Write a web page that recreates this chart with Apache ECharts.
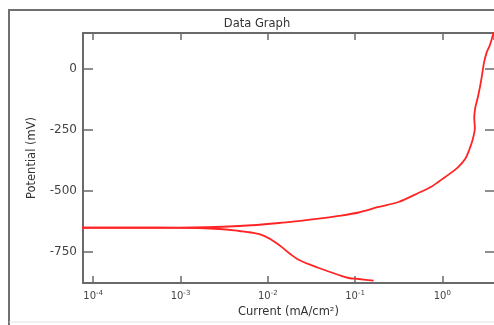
<!DOCTYPE html>
<html>
<head>
<meta charset="utf-8">
<script src="https://cdn.jsdelivr.net/npm/echarts@6/dist/echarts.min.js"></script>
<style>
html,body{margin:0;padding:0;background:#fff;overflow:hidden;}
#chart{width:494px;height:325px;}
</style>
</head>
<body>
<div id="chart"></div>
<script>
// Cathodic branch (current in mA/cm², potential in mV)
var cathodicCurrent = [5e-5, 1e-4, 3e-4, 9.75e-4, 1.65e-3, 2.79e-3, 4.71e-3, 6.12e-3, 9.08e-3, 1.346e-2, 1.75e-2, 2.28e-2, 3.85e-2, 6.5e-2, 8.45e-2, 0.110, 0.163];
var cathodicPotential = [-650.5, -650.5, -650.6, -650.7, -651.6, -655.7, -663.9, -669, -684, -721.2, -754, -782.7, -815.5, -844.2, -856.5, -860.6, -867.6];
// Anodic branch
var anodicCurrent = [5e-5, 1e-4, 3e-4, 9.75e-4, 4.71e-3, 1.346e-2, 3.85e-2, 6.5e-2, 0.110, 0.186, 0.314, 0.531, 0.747, 0.898, 1.167, 1.517, 1.824, 2.03, 2.22, 2.36, 2.32, 2.38, 2.54, 2.71, 2.85, 3.0, 3.21, 3.47, 3.66, 3.85, 4.0];
var anodicPotential = [-650.3, -650.2, -650.1, -650, -643.4, -631.1, -613, -602, -588.1, -565.5, -545, -508.2, -482.3, -463, -434, -402, -369, -332, -291, -242, -201, -160, -119, -70, -25, 25, 66, 94, 119, 148, 168];
// Axis ticks
var xTickValues = [1e-4, 1e-3, 1e-2, 1e-1, 1];
var yTickValues = [-750, -500, -250, 0];

function pairs(xs, ys) { return xs.map(function (x, i) { return [x, ys[i]]; }); }

var axisColor = '#6a6a6a';
var textColor = '#444';
var font = 'DejaVu Sans';
var xMin = Math.pow(10, -4.117), xMax = Math.pow(10, 0.592);
var yMin = -877, yMax = 147.5;

var chart = echarts.init(document.getElementById('chart'), null, {renderer: 'canvas'});
chart.setOption({
  animation: false,
  backgroundColor: '#fff',
  grid: {left: 83, top: 33, width: 413, height: 250, containLabel: false},
  graphic: [
    {type: 'polyline', shape: {points: [[9, 330], [9, 10], [520, 10]]}, style: {stroke: '#707070', lineWidth: 2, fill: null}, z: 1},
    {type: 'line', shape: {x1: 9, y1: 322, x2: 520, y2: 322}, style: {stroke: '#e2e2e2', lineWidth: 1}, z: 1},
    {type: 'text', x: 257, y: 24, style: {text: 'Data Graph', fontFamily: font, fontSize: 11.5, fill: '#333', align: 'center', verticalAlign: 'middle'}, z: 5}
  ],
  xAxis: [{
    type: 'log', logBase: 10, min: xMin, max: xMax, position: 'bottom',
    name: 'Current (mA/cm²)', nameLocation: 'middle', nameGap: 17,
    nameTextStyle: {fontFamily: font, fontSize: 11.5, color: '#333'},
    axisLine: {show: true, onZero: false, lineStyle: {color: axisColor, width: 2}},
    axisTick: {show: true, inside: true, length: 7, lineStyle: {color: axisColor, width: 1.5}},
    splitLine: {show: false},
    axisLabel: {
      show: true, margin: 7, showMinLabel: false, showMaxLabel: false, color: textColor,
      fontFamily: font, fontSize: 10,
      formatter: function (v) { var e = Math.round(Math.log10(v)); return '10{s|' + e + '}'; },
      rich: {s: {fontSize: 7, fontFamily: font, color: textColor, verticalAlign: 'top', padding: [0, 0, 6, 0]}}
    }
  }, {
    type: 'log', logBase: 10, min: xMin, max: xMax, position: 'top',
    axisLine: {show: true, onZero: false, lineStyle: {color: axisColor, width: 2}},
    axisTick: {show: true, inside: true, length: 7, lineStyle: {color: axisColor, width: 1.5}},
    axisLabel: {show: false}, splitLine: {show: false}
  }],
  yAxis: [{
    type: 'value', min: yMin, max: yMax, position: 'left',
    name: 'Potential (mV)', nameLocation: 'middle', nameGap: 45, nameRotate: 90,
    nameTextStyle: {fontFamily: font, fontSize: 11.5, color: '#333'},
    axisLine: {show: true, onZero: false, lineStyle: {color: axisColor, width: 2}},
    axisTick: {show: true, inside: true, length: 10, customValues: yTickValues, lineStyle: {color: axisColor, width: 1.5}},
    axisLabel: {show: true, customValues: yTickValues, margin: 6, color: textColor, fontFamily: font, fontSize: 12},
    splitLine: {show: false}
  }, {
    type: 'value', min: yMin, max: yMax, position: 'right',
    axisLine: {show: false, onZero: false},
    axisTick: {show: true, inside: true, length: 9, customValues: yTickValues, lineStyle: {color: axisColor, width: 1.5}},
    axisLabel: {show: false}, splitLine: {show: false}
  }],
  series: [{
    type: 'line', xAxisIndex: 0, yAxisIndex: 0, data: pairs(cathodicCurrent, cathodicPotential),
    showSymbol: false, smooth: 0.4, clip: true, lineStyle: {color: '#ff2424', width: 1.8}
  }, {
    type: 'line', xAxisIndex: 0, yAxisIndex: 0, data: pairs(anodicCurrent, anodicPotential),
    showSymbol: false, smooth: 0.3, clip: true, lineStyle: {color: '#ff2424', width: 1.8}
  }]
});
</script>
</body>
</html>
